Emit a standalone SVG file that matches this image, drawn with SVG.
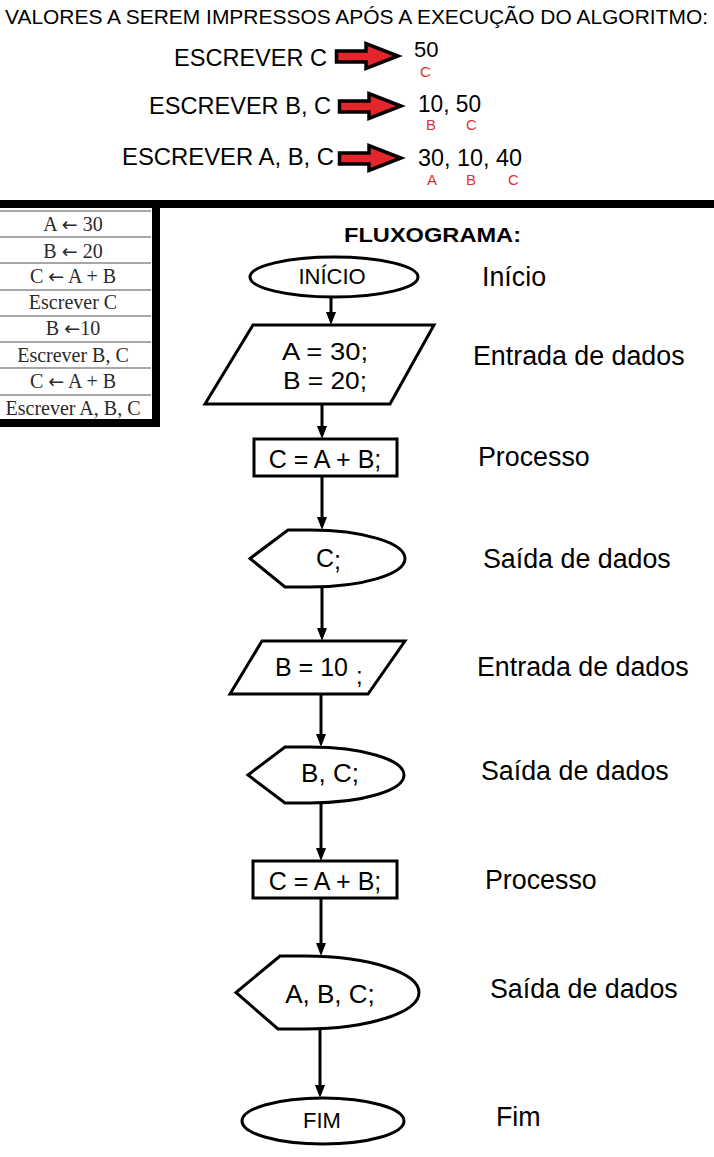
<svg xmlns="http://www.w3.org/2000/svg" width="714" height="1157" viewBox="0 0 714 1157">
<style>
.t{font-family:"Liberation Sans",Arial,sans-serif;fill:#000}
.red{font-family:"Liberation Sans",Arial,sans-serif;fill:#e03030;font-size:15px}
.tb{font-family:"Liberation Serif","Times New Roman",serif;fill:#2a2a2a;font-size:20px}
.arr{font-family:"DejaVu Sans",sans-serif;font-size:19px}
.shape{fill:#fff;stroke:#000;stroke-width:3}
.conn{stroke:#000;stroke-width:3;fill:none}
.fat{fill:#e3262b;stroke:#000;stroke-width:3.5;stroke-linejoin:miter}
.rowline{stroke:#8a8a8a;stroke-width:1.5}
.lbl{font-family:"Liberation Sans",Arial,sans-serif;font-size:26.8px;fill:#000}
</style>
<defs>
<marker id="ah" viewBox="0 0 13 10" refX="5" refY="5" markerWidth="13" markerHeight="10" markerUnits="userSpaceOnUse" orient="auto">
<path d="M0,0 L13,5 L0,10 Z" fill="#000"/>
</marker>
<path id="fatArrow" d="M336.5,51 L366,51 L366,43.5 L398,56 L366,68.5 L366,62 L336.5,62 Z"/>
</defs>

<g id="header">
<text class="t" x="5" y="24" font-size="21" textLength="703" lengthAdjust="spacingAndGlyphs">VALORES A SEREM IMPRESSOS APÓS A EXECUÇÃO DO ALGORITMO:</text>
<text class="t" x="174" y="66" font-size="23.5" textLength="153" lengthAdjust="spacingAndGlyphs">ESCREVER C</text>
<text class="t" x="149" y="114" font-size="23.5" textLength="182" lengthAdjust="spacingAndGlyphs">ESCREVER B, C</text>
<text class="t" x="122" y="165" font-size="23.5" textLength="212" lengthAdjust="spacingAndGlyphs">ESCREVER A, B, C</text>
<use href="#fatArrow" class="fat"/>
<use href="#fatArrow" class="fat" transform="translate(3,50)"/>
<use href="#fatArrow" class="fat" transform="translate(3,102)"/>
<text class="t" x="414" y="57" font-size="22">50</text>
<text class="red" x="420" y="77">C</text>
<text class="t" x="418" y="112" font-size="23" textLength="63" lengthAdjust="spacingAndGlyphs">10, 50</text>
<text class="red" x="426" y="130">B</text>
<text class="red" x="466" y="130">C</text>
<text class="t" x="418" y="166" font-size="23" textLength="104" lengthAdjust="spacingAndGlyphs">30, 10, 40</text>
<text class="red" x="427" y="185">A</text>
<text class="red" x="466" y="185">B</text>
<text class="red" x="508" y="185">C</text>
</g>

<g id="divider">
<rect x="0" y="200" width="714" height="8" fill="#000"/>
<rect x="152" y="200" width="8" height="227" fill="#000"/>
<rect x="0" y="419" width="160" height="8" fill="#000"/>
</g>

<g id="table">
<line class="rowline" x1="0" y1="211" x2="151" y2="211"/>
<line class="rowline" x1="0" y1="237" x2="151" y2="237"/>
<line class="rowline" x1="0" y1="263" x2="151" y2="263"/>
<line class="rowline" x1="0" y1="290" x2="151" y2="290"/>
<line class="rowline" x1="0" y1="316" x2="151" y2="316"/>
<line class="rowline" x1="0" y1="342" x2="151" y2="342"/>
<line class="rowline" x1="0" y1="368" x2="151" y2="368"/>
<line class="rowline" x1="0" y1="395" x2="151" y2="395"/>
<g text-anchor="middle">
<text class="tb" x="73" y="231">A <tspan class="arr">←</tspan> 30</text>
<text class="tb" x="73" y="258">B <tspan class="arr">←</tspan> 20</text>
<text class="tb" x="73" y="283">C <tspan class="arr">←</tspan> A + B</text>
<text class="tb" x="73" y="309">Escrever C</text>
<text class="tb" x="73" y="335">B <tspan class="arr">←</tspan>10</text>
<text class="tb" x="73" y="362">Escrever B, C</text>
<text class="tb" x="73" y="388">C <tspan class="arr">←</tspan> A + B</text>
<text class="tb" x="73" y="415">Escrever A, B, C</text>
</g>
</g>

<text class="t" x="344" y="242" font-size="20" font-weight="bold" textLength="177" lengthAdjust="spacingAndGlyphs">FLUXOGRAMA:</text>

<g id="connectors">
<line class="conn" x1="331" y1="297" x2="331" y2="317" marker-end="url(#ah)"/>
<line class="conn" x1="322" y1="403" x2="322" y2="431" marker-end="url(#ah)"/>
<line class="conn" x1="322" y1="476" x2="322" y2="522" marker-end="url(#ah)"/>
<line class="conn" x1="322" y1="587" x2="322" y2="633" marker-end="url(#ah)"/>
<line class="conn" x1="321" y1="694" x2="321" y2="739" marker-end="url(#ah)"/>
<line class="conn" x1="321" y1="803" x2="321" y2="853" marker-end="url(#ah)"/>
<line class="conn" x1="321" y1="898" x2="321" y2="948" marker-end="url(#ah)"/>
<line class="conn" x1="320" y1="1029" x2="320" y2="1090" marker-end="url(#ah)"/>
</g>

<g id="inicio">
<ellipse class="shape" cx="334" cy="277" rx="84" ry="20"/>
<text class="t" x="332" y="284" font-size="22" text-anchor="middle">INÍCIO</text>
</g>
<g id="entrada1">
<polygon class="shape" points="253,325 434,325 390,404 205,404"/>
<text class="t" x="325" y="360" font-size="24" text-anchor="middle" textLength="86" lengthAdjust="spacingAndGlyphs">A = 30;</text>
<text class="t" x="325" y="389" font-size="24" text-anchor="middle" textLength="84" lengthAdjust="spacingAndGlyphs">B = 20;</text>
</g>
<g id="processo1">
<rect class="shape" x="254" y="439" width="143" height="37"/>
<text class="t" x="325" y="468" font-size="25" text-anchor="middle">C = A + B;</text>
</g>
<g id="saida1">
<path class="shape" d="M288,530 L310,530 C362.4,530 405,542.8 405,558.5 C405,574.2 362.4,587 310,587 L285,587 L250,558.5 Z"/>
<text class="t" x="316" y="567" font-size="25">C<tspan dy="2">;</tspan></text>
</g>
<g id="entrada2">
<polygon class="shape" points="262,641 405,641 368,694 230,694"/>
<text class="t" x="275" y="676" font-size="25">B = 10<tspan x="356" y="684" font-size="24">;</tspan></text>
</g>
<g id="saida2">
<path class="shape" d="M285,747 L310,747 C361.9,747 404,759.5 404,775 C404,790.5 361.9,803 310,803 L285,803 L248,775 Z"/>
<text class="t" x="330" y="782" font-size="26" text-anchor="middle">B, C;</text>
</g>
<g id="processo2">
<rect class="shape" x="253" y="861" width="144" height="37"/>
<text class="t" x="325" y="890" font-size="25" text-anchor="middle">C = A + B;</text>
</g>
<g id="saida3">
<path class="shape" d="M280,956 L305,956 C367.9,956 419,972.4 419,992.5 C419,1012.6 367.9,1029 305,1029 L278,1029 L236,992.5 Z"/>
<text class="t" x="330" y="1003" font-size="26" text-anchor="middle">A, B, C;</text>
</g>
<g id="fim">
<ellipse class="shape" cx="323" cy="1121" rx="81" ry="23"/>
<text class="t" x="322" y="1128" font-size="22" text-anchor="middle">FIM</text>
</g>

<g id="labels">
<text class="lbl" x="482" y="286">Início</text>
<text class="lbl" x="473" y="365">Entrada de dados</text>
<text class="lbl" x="478" y="466">Processo</text>
<text class="lbl" x="483" y="568">Saída de dados</text>
<text class="lbl" x="477" y="676">Entrada de dados</text>
<text class="lbl" x="481" y="780">Saída de dados</text>
<text class="lbl" x="485" y="889">Processo</text>
<text class="lbl" x="490" y="998">Saída de dados</text>
<text class="lbl" x="496" y="1126">Fim</text>
</g>
</svg>
